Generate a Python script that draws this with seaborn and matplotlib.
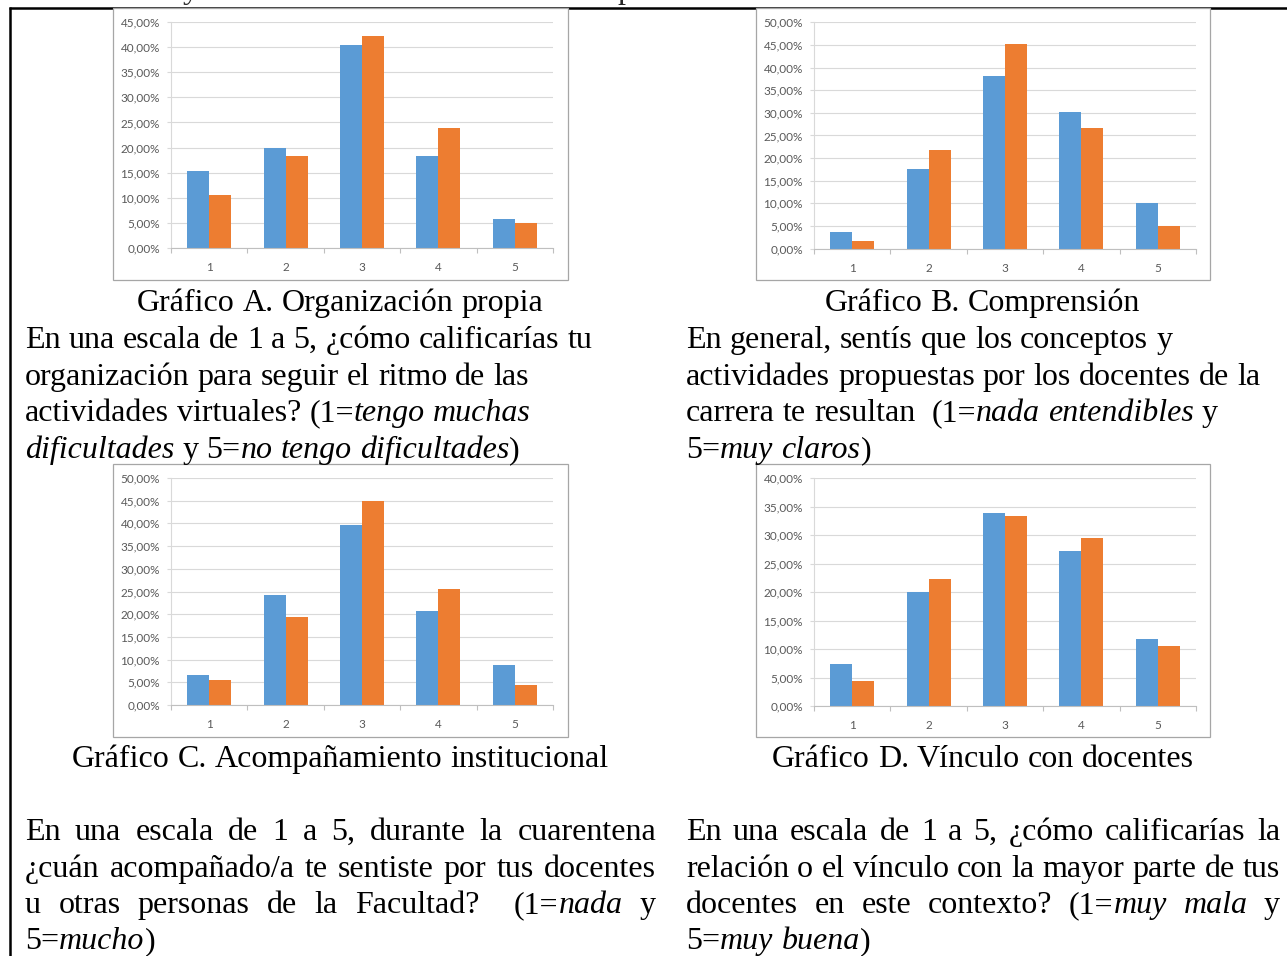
import matplotlib
matplotlib.use("Agg")
import matplotlib.pyplot as plt
import seaborn as sns
import pandas as pd
import numpy as np
from matplotlib.patches import Rectangle
from matplotlib.lines import Line2D
from matplotlib.ticker import FuncFormatter

# ---------------- data ----------------
categories = ["1", "2", "3", "4", "5"]
series_names = ["Serie 1", "Serie 2"]

a_blue = [15.3, 20.0, 40.5, 18.3, 5.8]
a_orange = [10.5, 18.3, 42.3, 23.9, 4.9]
b_blue = [3.7, 17.6, 38.2, 30.1, 10.2]
b_orange = [1.8, 21.7, 45.1, 26.7, 5.0]
c_blue = [6.6, 24.2, 39.7, 20.6, 8.8]
c_orange = [5.5, 19.4, 44.9, 25.5, 4.3]
d_blue = [7.4, 20.0, 33.8, 27.2, 11.8]
d_orange = [4.3, 22.2, 33.3, 29.4, 10.5]

y_max_a, y_max_b, y_max_c, y_max_d = 45, 50, 50, 40

captions = [
    "Gráfico A. Organización propia",
    "Gráfico B. Comprensión",
    "Gráfico C. Acompañamiento institucional",
    "Gráfico D. Vínculo con docentes",
]
text_a = [
    "En una escala de 1 a 5, ¿cómo calificarías tu",
    "organización para seguir el ritmo de las",
    "actividades virtuales? (1=*tengo muchas*",
    "*dificultades* y 5=*no tengo dificultades*)",
]
text_b = [
    "En general, sentís que los conceptos y",
    "actividades propuestas por los docentes de la",
    "carrera te resultan  (1=*nada entendibles* y",
    "5=*muy claros*)",
]
text_c = [
    "En una escala de 1 a 5, durante la cuarentena",
    "¿cuán acompañado/a te sentiste por tus docentes",
    "u otras personas de la Facultad?  (1=*nada* y",
    "5=*mucho*)",
]
text_d = [
    "En una escala de 1 a 5, ¿cómo calificarías la",
    "relación o el vínculo con la mayor parte de tus",
    "docentes en este contexto? (1=*muy mala* y",
    "5=*muy buena*)",
]

BLUE = "#5B9BD5"
ORANGE = "#ED7D31"

W, H = 1287, 956
sns.set_theme(style="white")
plt.rcParams["font.family"] = ["DejaVu Sans"]

fig = plt.figure(figsize=(W / 100, H / 100), dpi=100)
fig.patch.set_facecolor("white")
renderer = fig.canvas.get_renderer()

SERIF = ["Liberation Serif", "DejaVu Serif"]
FS = 23
TICKFONT = ["Lato", "DejaVu Sans"]
TICKSIZE = 8.5


def fy(y):
    return 1 - y / H


# table border lines (black)
fig.add_artist(Line2D([9 / W, 1], [fy(8), fy(8)], transform=fig.transFigure,
                      color="black", lw=1.8, zorder=-3, solid_capstyle="butt"))
fig.add_artist(Line2D([10 / W, 10 / W], [fy(7), 0], transform=fig.transFigure,
                      color="black", lw=1.8, zorder=-3, solid_capstyle="butt"))

# chart frames
frames = [(113, 8, 568, 280), (756, 8, 1210, 280), (113, 464, 568, 737), (756, 464, 1210, 737)]
for x0, y0, x1, y1 in frames:
    fig.add_artist(Rectangle((x0 / W, fy(y1)), (x1 - x0) / W, (y1 - y0) / H,
                             transform=fig.transFigure, facecolor="white",
                             edgecolor="#a6a6a6", lw=0.9, zorder=-1))

plot_boxes = [(171, 22, 553, 248), (814, 22.3, 1196, 248.7), (171, 478, 553, 705), (814, 478, 1196, 706)]
all_series = [(a_blue, a_orange, y_max_a), (b_blue, b_orange, y_max_b),
              (c_blue, c_orange, y_max_c), (d_blue, d_orange, y_max_d)]

fmt = FuncFormatter(lambda v, p: f"{v:.2f}%".replace(".", ","))

for (x0, y0, x1, y1), (blue, orange, ymax) in zip(plot_boxes, all_series):
    ax = fig.add_axes([x0 / W, fy(y1), (x1 - x0) / W, (y1 - y0) / H])
    ax.set_facecolor("none")
    df = pd.DataFrame({
        "cat": categories * 2,
        "val": list(blue) + list(orange),
        "serie": [series_names[0]] * 5 + [series_names[1]] * 5,
    })
    sns.barplot(data=df, x="cat", y="val", hue="serie", order=categories,
                hue_order=series_names, palette=[BLUE, ORANGE], saturation=1,
                width=0.576, gap=0, errorbar=None, legend=False, ax=ax,
                linewidth=0)
    ax.set_xlim(-0.5, 4.5)
    ax.set_ylim(0, ymax)
    ax.set_yticks(np.arange(0, ymax + 0.1, 5))
    ax.yaxis.set_major_formatter(fmt)
    ax.set_xticks(np.arange(-0.5, 5, 1), minor=True)
    ax.set_xlabel("")
    ax.set_ylabel("")
    ax.set_axisbelow(True)
    ax.yaxis.grid(True, color="#d9d9d9", lw=0.8)
    ax.xaxis.grid(False)
    for s in ["top", "right"]:
        ax.spines[s].set_visible(False)
    ax.spines["left"].set_color("#d9d9d9")
    ax.spines["left"].set_linewidth(0.8)
    ax.spines["bottom"].set_color("#bfbfbf")
    ax.spines["bottom"].set_linewidth(0.8)
    ax.tick_params(axis="y", which="major", length=3, width=0.8, color="#d9d9d9",
                   direction="out", pad=5, labelsize=TICKSIZE, labelcolor="#595959", left=True)
    ax.tick_params(axis="x", which="major", length=0, pad=10, labelsize=TICKSIZE,
                   labelcolor="#595959")
    ax.tick_params(axis="x", which="minor", length=3.6, width=0.8, color="#bfbfbf",
                   direction="out", bottom=True)
    for lab in ax.get_xticklabels() + ax.get_yticklabels():
        lab.set_fontfamily(TICKFONT)

# --------------- text helpers ---------------


def parse(line):
    chars = []
    it = False
    for ch in line:
        if ch == "*":
            it = not it
            continue
        chars.append((ch, it))
    words = [[]]
    for ch, it in chars:
        if ch == " ":
            words.append([])
        else:
            words[-1].append((ch, it))
    out = []
    for w in words:
        pieces = []
        for ch, it in w:
            if pieces and pieces[-1][1] == it:
                pieces[-1][0] += ch
            else:
                pieces.append([ch, it])
        out.append(pieces)
    return out


def measure(s, italic=False):
    t = fig.text(0, 0, s, fontsize=FS, family=SERIF, style="italic" if italic else "normal")
    w = t.get_window_extent(renderer).width
    t.remove()
    return w


SPACE = measure("n n") - measure("nn")


def draw_line(line, x0, ybase, x1=None, center=None):
    words = parse(line)
    arts = []
    for w in words:
        wl = []
        for s, it in w:
            t = fig.text(0, 0, s, fontsize=FS, family=SERIF, color="black",
                         style="italic" if it else "normal", va="baseline", ha="left")
            wd = t.get_window_extent(renderer).width
            wl.append((t, wd))
        arts.append(wl)
    widths = [sum(wd for _, wd in wl) for wl in arts]
    n = len(words)
    if x1 is not None and n > 1:
        gap = (x1 - x0 - sum(widths)) / (n - 1)
    else:
        gap = SPACE
    if center is not None:
        total = sum(widths) + gap * (n - 1)
        x0 = center - total / 2
    x = x0
    for wl in arts:
        for t, wd in wl:
            t.set_position((x / W, fy(ybase)))
            x += wd
        x += gap


# captions
draw_line(captions[0], 0, 311, center=340)
draw_line(captions[1], 0, 311, center=982)
draw_line(captions[2], 0, 767, center=340)
draw_line(captions[3], 0, 767, center=983)

top_bases = [348, 385, 421, 458]
for ln, yb in zip(text_a, top_bases):
    draw_line(ln, 25, yb)
for ln, yb in zip(text_b, top_bases):
    draw_line(ln, 686, yb)

bot_bases = [840, 877, 913, 949]
for i, (ln, yb) in enumerate(zip(text_c, bot_bases)):
    draw_line(ln, 25, yb, x1=656 if i < 3 else None)
for i, (ln, yb) in enumerate(zip(text_d, bot_bases)):
    draw_line(ln, 686, yb, x1=1280 if i < 3 else None)

# cut-off text fragments above the table
fig.text(183 / W, fy(-2), "y", fontsize=FS, family=SERIF, va="baseline", ha="left")
fig.text(617 / W, fy(-2), "p", fontsize=FS, family=SERIF, va="baseline", ha="left")

fig.savefig("out.png", dpi=100, facecolor="white")
